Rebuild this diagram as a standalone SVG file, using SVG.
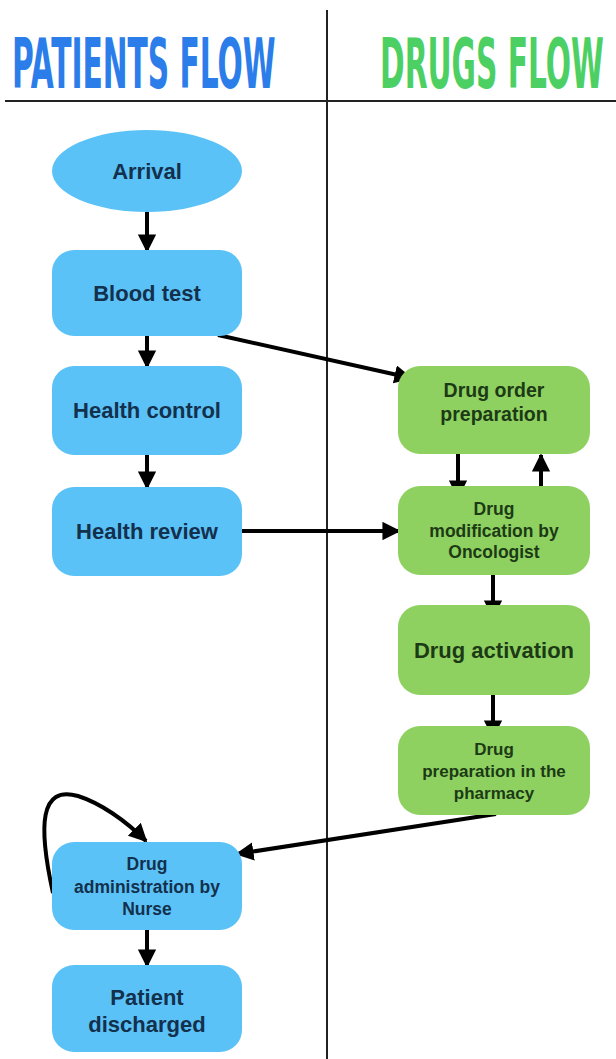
<svg xmlns="http://www.w3.org/2000/svg" width="616" height="1059" viewBox="0 0 616 1059">
<defs>
<marker id="ah" viewBox="0 0 10 10" refX="9" refY="5" markerWidth="4.6" markerHeight="4.6" orient="auto" markerUnits="strokeWidth">
<path d="M0,0 L10,5 L0,10 z" fill="#000"/>
</marker>
<style>
.blue{fill:#5BC2F7;}
.green{fill:#8ED160;}
.bt{font-family:"Liberation Sans",Arial,sans-serif;font-weight:bold;fill:#13304d;text-anchor:middle;}
.gt{font-family:"Liberation Sans",Arial,sans-serif;font-weight:bold;fill:#1d3a16;text-anchor:middle;}
.c{fill:none;stroke:#000;stroke-width:4;marker-end:url(#ah);}
.h{font-family:"DejaVu Sans Condensed","DejaVu Sans",sans-serif;font-weight:bold;font-size:33px;}
</style>
</defs>
<rect width="616" height="1059" fill="#fff"/>
<g id="frame">
<line x1="327" y1="10" x2="327" y2="1059" stroke="#222" stroke-width="2"/>
<line x1="5" y1="101" x2="616" y2="101" stroke="#222" stroke-width="2"/>
<text class="h" transform="translate(12,88) scale(1,2.1)" fill="#2B7DE9">PATIENTS FLOW</text>
<text class="h" transform="translate(380,88) scale(1,2.1)" fill="#4CD064">DRUGS FLOW</text>
</g>
<g id="connectors">
<line class="c" x1="147" y1="212" x2="147" y2="251"/>
<line class="c" x1="147" y1="336" x2="147" y2="367"/>
<line class="c" x1="147" y1="455" x2="147" y2="488"/>
<line class="c" x1="147" y1="930" x2="147" y2="966"/>
<line class="c" x1="218" y1="335" x2="411" y2="378"/>
<line class="c" x1="242" y1="531" x2="399" y2="531"/>
<line class="c" x1="458" y1="454" x2="458" y2="497"/>
<line class="c" x1="541" y1="500" x2="541" y2="455"/>
<line class="c" x1="493" y1="575" x2="493" y2="617"/>
<line class="c" x1="493" y1="695" x2="493" y2="737"/>
<line class="c" x1="496" y1="814" x2="237" y2="854"/>
<path class="c" d="M53,893 C38,825 40,785 78,796 C100,803 125,820 146,841"/>
</g>
<g id="arrival"><ellipse class="blue" cx="147" cy="171" rx="95" ry="41"/><text class="bt" x="147" y="179" font-size="22">Arrival</text></g>
<g id="blood-test"><rect class="blue" x="52" y="250" width="190" height="86" rx="22"/><text class="bt" x="147" y="301" font-size="22">Blood test</text></g>
<g id="health-control"><rect class="blue" x="52" y="366" width="190" height="89" rx="22"/><text class="bt" x="147" y="418" font-size="22">Health control</text></g>
<g id="health-review"><rect class="blue" x="52" y="487" width="190" height="89" rx="22"/><text class="bt" x="147" y="539" font-size="22">Health review</text></g>
<g id="drug-admin"><rect class="blue" x="52" y="842" width="190" height="88" rx="22"/><text class="bt" font-size="17.5"><tspan x="147" y="870">Drug</tspan><tspan x="147" y="893">administration by</tspan><tspan x="147" y="915">Nurse</tspan></text></g>
<g id="discharged"><rect class="blue" x="52" y="965" width="190" height="87" rx="22"/><text class="bt" font-size="22"><tspan x="147" y="1005">Patient</tspan><tspan x="147" y="1032">discharged</tspan></text></g>
<g id="drug-order"><rect class="green" x="398" y="366" width="192" height="88" rx="22"/><text class="gt" font-size="19.5"><tspan x="494" y="397">Drug order</tspan><tspan x="494" y="421">preparation</tspan></text></g>
<g id="drug-mod"><rect class="green" x="398" y="486" width="192" height="89" rx="22"/><text class="gt" font-size="17.5"><tspan x="494" y="515">Drug</tspan><tspan x="494" y="537">modification by</tspan><tspan x="494" y="558">Oncologist</tspan></text></g>
<g id="drug-activation"><rect class="green" x="398" y="605" width="192" height="90" rx="22"/><text class="gt" x="494" y="658" font-size="22">Drug activation</text></g>
<g id="drug-pharmacy"><rect class="green" x="398" y="726" width="192" height="89" rx="22"/><text class="gt" font-size="17"><tspan x="494" y="755">Drug</tspan><tspan x="494" y="777">preparation in the</tspan><tspan x="494" y="799">pharmacy</tspan></text></g>
</svg>
